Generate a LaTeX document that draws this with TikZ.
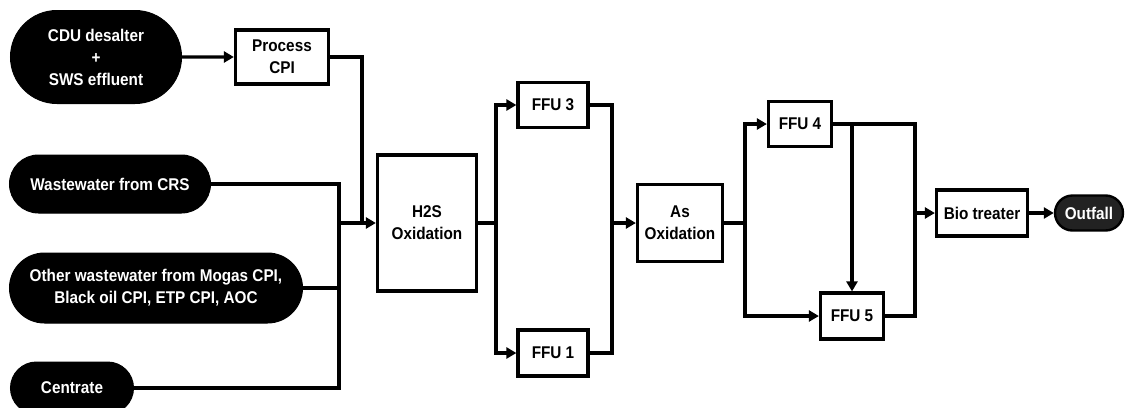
\documentclass[tikz,border=0pt]{standalone}
\usepackage{fontspec}
\setmainfont{Liberation Sans}[FakeStretch=0.9]
\usetikzlibrary{arrows.meta,positioning,shapes.misc}
\definecolor{flowline}{RGB}{0,0,0}
\definecolor{outfallfill}{RGB}{34,34,34}

\begin{document}
\begin{tikzpicture}[
  x=1pt, y=-1pt,
  box/.style={
    draw=flowline,
    fill=white,
    line width=3.2pt,
    align=center,
    inner sep=2pt
  },
  pill/.style={
    rounded rectangle,
    draw=flowline,
    fill=black,
    text=white,
    line width=1pt,
    align=center,
    inner sep=2pt
  },
  pipe/.style={line width=3.2pt, draw=flowline},
  arrow/.style={pipe, -{Triangle[length=10pt,width=11pt]}},
  every node/.style={font=\fontsize{17}{22}\selectfont\bfseries}
]
\useasboundingbox (0,0) rectangle (1127,407);

% inflows
\node[pill, minimum width=175pt, minimum height=93pt] (cdu) at (96,57)
  {CDU desalter\\+\\SWS effluent};
\node[pill, minimum width=205pt, minimum height=58pt] (crs) at (110,184)
  {Wastewater from CRS};
\node[pill, minimum width=297pt, minimum height=70pt] (other) at (156,288)
  {Other wastewater from Mogas CPI,\\Black oil CPI, ETP CPI, AOC};
\node[pill, minimum width=127pt, minimum height=52pt] (centrate) at (72,388)
  {Centrate};

% treatment train
\node[box, minimum width=93pt, minimum height=54pt] (cpi) at (282,57)
  {Process\\CPI};
\node[box, minimum width=99pt, minimum height=136pt] (h2s) at (427,223)
  {H2S\\Oxidation};
\node[box, minimum width=70pt, minimum height=45pt] (ffu3) at (553,105) {FFU 3};
\node[box, minimum width=70pt, minimum height=46pt] (ffu1) at (553,353) {FFU 1};
\node[box, minimum width=85pt, minimum height=77pt] (asox) at (680,223)
  {As\\Oxidation};
\node[box, minimum width=63pt, minimum height=45pt] (ffu4) at (800,124) {FFU 4};
\node[box, minimum width=63pt, minimum height=46pt] (ffu5) at (852,316) {FFU 5};
\node[box, minimum width=91pt, minimum height=46pt] (bio) at (982,213) {Bio treater};
\node[pill, fill=outfallfill, line width=2.4pt, minimum width=72pt, minimum height=35pt]
  (outfall) at (1089,213) {Outfall};

% junctions
\coordinate (inlet) at (339,223);
\coordinate (cpidrop) at (362,223);
\coordinate (split1) at (496,223);
\coordinate (merge1) at (612,223);
\coordinate (split2) at (745,223);
\coordinate (merge2) at (915,213);

\draw[arrow] (cdu) -- (cpi);
\draw[pipe] (cpi.east) -| (cpidrop);
\draw[pipe] (crs.east) -| (inlet);
\draw[pipe] (other.east) -| (inlet);
\draw[pipe] (centrate.east) -| (inlet);
\draw[arrow] (inlet) -- (h2s.west);

\draw[pipe] (h2s.east) -- (split1);
\draw[arrow] (split1) |- (ffu3.west);
\draw[arrow] (split1) |- (ffu1.west);
\draw[pipe] (ffu3.east) -| (merge1);
\draw[pipe] (ffu1.east) -| (merge1);
\draw[arrow] (merge1) -- (asox.west);

\draw[pipe] (asox.east) -- (split2);
\draw[arrow] (split2) |- (ffu4.west);
\draw[arrow] (split2) |- (ffu5.west);
\draw[pipe] (ffu4.east) -| (merge2);
\draw[pipe] (ffu5.east) -| (merge2);
\draw[arrow] (ffu5.north |- ffu4.east) -- (ffu5.north);
\draw[arrow] (merge2) -- (bio.west);
\draw[arrow] (bio) -- (outfall);
\end{tikzpicture}
\end{document}
